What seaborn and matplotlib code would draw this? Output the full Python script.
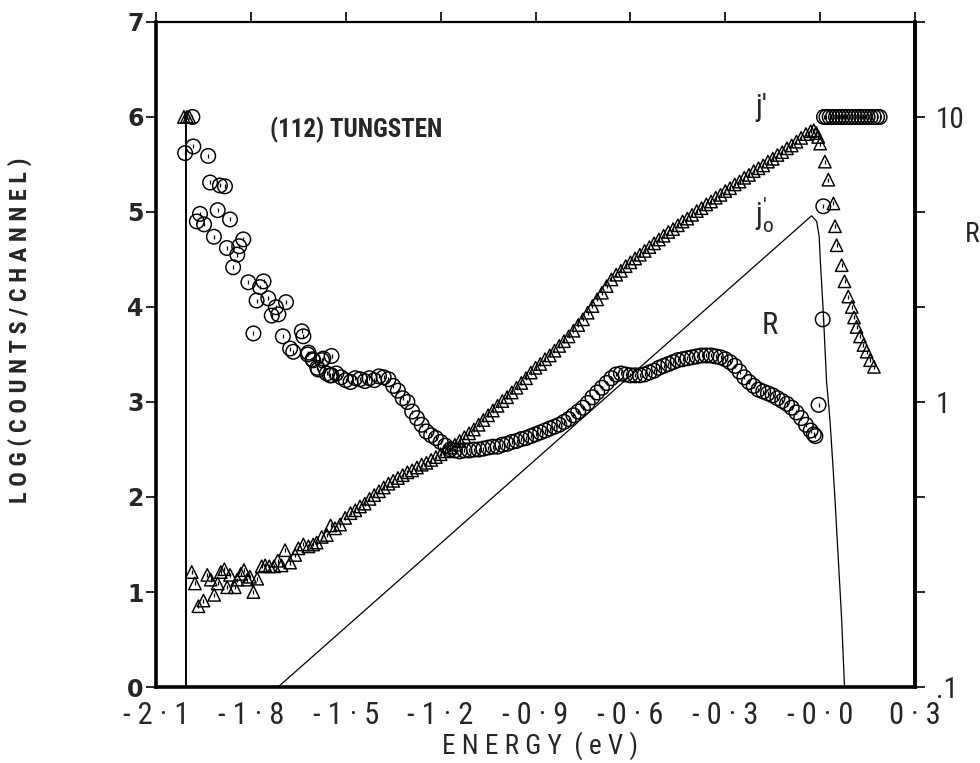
import numpy as np
import pandas as pd
import matplotlib
matplotlib.use("Agg")
import matplotlib.pyplot as plt
import seaborn as sns
from matplotlib import font_manager
from matplotlib.ticker import NullLocator

# ---------------- data ----------------
# j' (triangles, left axis: log counts/channel)
jp_head_E = [-2.012, -2.003, -1.995,
             -1.987, -1.977, -1.966, -1.950, -1.938, -1.927, -1.916, -1.905, -1.895, -1.884,
             -1.875, -1.866, -1.851, -1.843, -1.832, -1.822, -1.811, -1.803, -1.792, -1.780,
             -1.766, -1.755, -1.742, -1.727, -1.715, -1.703, -1.692, -1.676, -1.660, -1.650,
             -1.634, -1.618, -1.603, -1.592, -1.576, -1.560, -1.548, -1.534, -1.518, -1.502]
jp_head_v = [6.00, 6.00, 6.00,
             1.21, 1.09, 0.85, 0.91, 1.18, 1.13, 0.97, 1.09, 1.21, 1.24,
             1.05, 1.18, 1.05, 1.13, 1.19, 1.23, 1.13, 1.16, 1.00, 1.14,
             1.27, 1.28, 1.27, 1.27, 1.33, 1.28, 1.44, 1.31, 1.39, 1.46,
             1.50, 1.48, 1.50, 1.52, 1.58, 1.60, 1.70, 1.67, 1.71, 1.78]

jp_E = [-1.485, -1.470, -1.455, -1.440, -1.425, -1.410, -1.395, -1.380, -1.365, -1.350,
        -1.335, -1.320, -1.305, -1.290, -1.275, -1.260, -1.245, -1.230, -1.215, -1.200,
        -1.185, -1.170, -1.155, -1.140, -1.125, -1.110, -1.095, -1.080, -1.065, -1.050,
        -1.035, -1.020, -1.005, -0.990, -0.975, -0.960, -0.945, -0.930, -0.915, -0.900,
        -0.885, -0.870, -0.855, -0.840, -0.825, -0.810, -0.795, -0.780, -0.765, -0.750,
        -0.735, -0.720, -0.705, -0.690, -0.675, -0.660, -0.645, -0.630, -0.615, -0.600,
        -0.585, -0.570, -0.555, -0.540, -0.525, -0.510, -0.495, -0.480, -0.465, -0.450,
        -0.435, -0.420, -0.405, -0.390, -0.375, -0.360, -0.345, -0.330, -0.315, -0.300,
        -0.285, -0.270, -0.255, -0.240, -0.225, -0.210, -0.195, -0.180, -0.165, -0.150,
        -0.135, -0.120, -0.105, -0.090, -0.075, -0.060, -0.045, -0.030, -0.020, -0.012,
        -0.006, 0.000]
jp_v = [1.83, 1.86, 1.90, 1.93, 1.98, 2.02, 2.06, 2.10, 2.14, 2.17,
        2.20, 2.23, 2.26, 2.28, 2.31, 2.34, 2.36, 2.39, 2.42, 2.45,
        2.48, 2.52, 2.55, 2.59, 2.63, 2.67, 2.71, 2.76, 2.81, 2.86,
        2.91, 2.96, 3.01, 3.05, 3.10, 3.15, 3.20, 3.25, 3.31, 3.36,
        3.40, 3.45, 3.49, 3.54, 3.59, 3.64, 3.69, 3.75, 3.81, 3.87,
        3.94, 4.01, 4.08, 4.15, 4.22, 4.29, 4.34, 4.38, 4.43, 4.47,
        4.51, 4.55, 4.59, 4.63, 4.67, 4.71, 4.75, 4.79, 4.82, 4.86,
        4.90, 4.93, 4.97, 5.01, 5.04, 5.08, 5.11, 5.15, 5.18, 5.22,
        5.25, 5.29, 5.32, 5.36, 5.39, 5.43, 5.46, 5.49, 5.53, 5.56,
        5.60, 5.63, 5.67, 5.70, 5.74, 5.78, 5.82, 5.85, 5.86, 5.83,
        5.79, 5.72]

jp_tail_E = [0.015, 0.026, 0.042, 0.047, 0.052, 0.068, 0.077, 0.089, 0.100, 0.107,
             0.115, 0.126, 0.137, 0.147, 0.158, 0.170]
jp_tail_v = [5.53, 5.34, 5.09, 4.85, 4.65, 4.44, 4.27, 4.11, 4.00, 3.89,
             3.79, 3.69, 3.60, 3.53, 3.44, 3.37]

# R (circles, right log axis)
R_head_E = [-1.985, -2.008, -1.982, -1.935, -1.929, -1.898, -1.882, -1.961, -1.971, -1.948,
            -1.905, -1.866, -1.917, -1.876, -1.843, -1.837, -1.824, -1.856, -1.808, -1.760,
            -1.771, -1.782, -1.745, -1.721, -1.689, -1.734, -1.713, -1.792, -1.699, -1.639,
            -1.634, -1.676, -1.666, -1.618, -1.603, -1.571, -1.545, -1.587, -1.550]
R_head = [10.0, 7.47, 7.88, 7.30, 5.89, 5.75, 5.71, 4.57, 4.30, 4.20,
          4.71, 4.37, 3.80, 3.47, 3.29, 3.52, 3.72, 2.97, 2.63, 2.65,
          2.53, 2.27, 2.31, 2.15, 2.24, 2.01, 2.03, 1.74, 1.70, 1.77,
          1.70, 1.54, 1.50, 1.49, 1.40, 1.42, 1.45, 1.30, 1.24]

R_E = [-1.620, -1.605, -1.590, -1.575, -1.560, -1.545, -1.530, -1.515, -1.500, -1.485,
       -1.470, -1.455, -1.440, -1.425, -1.410, -1.395, -1.380, -1.365, -1.350, -1.335,
       -1.320, -1.305, -1.290, -1.275, -1.260, -1.245, -1.230, -1.215, -1.200, -1.185,
       -1.170, -1.155, -1.140, -1.125, -1.110, -1.095, -1.080, -1.065, -1.050, -1.035,
       -1.020, -1.005, -0.990, -0.975, -0.960, -0.945, -0.930, -0.915, -0.900, -0.885,
       -0.870, -0.855, -0.840, -0.825, -0.810, -0.795, -0.780, -0.765, -0.750, -0.735,
       -0.720, -0.705, -0.690, -0.675, -0.660, -0.645, -0.630, -0.615, -0.600, -0.585,
       -0.570, -0.555, -0.540, -0.525, -0.510, -0.495, -0.480, -0.465, -0.450, -0.435,
       -0.420, -0.405, -0.390, -0.375, -0.360, -0.345, -0.330, -0.315, -0.300, -0.285,
       -0.270, -0.255, -0.240, -0.225, -0.210, -0.195, -0.180, -0.165, -0.150, -0.135,
       -0.120, -0.105, -0.090, -0.075, -0.060, -0.045, -0.030, -0.020, -0.015]
R_vals = [1.468, 1.413, 1.318, 1.402, 1.259, 1.240, 1.259, 1.221, 1.193, 1.175,
          1.212, 1.202, 1.184, 1.212, 1.193, 1.230, 1.221, 1.202, 1.139, 1.096,
          1.031, 1.000, 0.926, 0.878, 0.832, 0.788, 0.764, 0.747, 0.724, 0.703,
          0.681, 0.676, 0.671, 0.676, 0.676, 0.681, 0.681, 0.686, 0.692, 0.697,
          0.697, 0.708, 0.713, 0.724, 0.730, 0.741, 0.747, 0.759, 0.770, 0.782,
          0.794, 0.807, 0.819, 0.832, 0.851, 0.871, 0.898, 0.926, 0.955, 0.992,
          1.039, 1.080, 1.122, 1.166, 1.212, 1.249, 1.259, 1.249, 1.240, 1.240,
          1.240, 1.249, 1.269, 1.288, 1.318, 1.339, 1.359, 1.380, 1.402, 1.413,
          1.424, 1.435, 1.445, 1.456, 1.456, 1.456, 1.445, 1.435, 1.413, 1.380,
          1.339, 1.279, 1.221, 1.175, 1.139, 1.105, 1.088, 1.072, 1.055, 1.031,
          1.008, 0.985, 0.955, 0.919, 0.878, 0.832, 0.794, 0.770, 0.759]

R_tail_E = [-0.005, 0.008, 0.010,
            0.012, 0.020, 0.030, 0.040, 0.050, 0.060, 0.070, 0.080, 0.090, 0.100,
            0.110, 0.120, 0.130, 0.140, 0.150, 0.160, 0.170, 0.180, 0.188]
R_tail = [0.977, 1.95, 4.86,
          10, 10, 10, 10, 10, 10, 10, 10, 10, 10,
          10, 10, 10, 10, 10, 10, 10, 10, 10]

# j0' (solid line, left axis)
j0_E = [-1.714, -0.027, -0.011, -0.003, 0.001, 0.010, 0.020, 0.031, 0.040, 0.047, 0.068, 0.077]
j0_v = [0.00, 4.96, 4.90, 4.74, 4.46, 3.94, 3.23, 2.81, 2.35, 1.97, 0.71, 0.00]

# left edge of the j' scan
edge_E = [-2.005, -2.005]
edge_v = [0.0, 6.0]

x_ticks = [-2.1, -1.8, -1.5, -1.2, -0.9, -0.6, -0.3, 0.0, 0.3]
x_labels = ["- 2 · 1", "- 1 · 8", "- 1 · 5", "- 1 · 2", "- 0 · 9", "- 0 · 6", "- 0 · 3", "- 0 · 0", "0 · 3"]
y_ticks = [0, 1, 2, 3, 4, 5, 6, 7]
r_ticks = [10 ** (-1 + k / 3) for k in range(8)]
r_labels = [".1", "", "", "1", "", "", "10", ""]

# ---------------- style ----------------
sns.set_theme(style="white")
avail = {f.name for f in font_manager.fontManager.ttflist}
narrow = next((f for f in ["Liberation Sans Narrow", "DejaVu Sans Condensed", "Roboto Condensed"]
               if f in avail), "DejaVu Sans")
plt.rcParams['font.family'] = ['DejaVu Sans']

fig = plt.figure(figsize=(9.8, 7.63), dpi=100)
ax = fig.add_axes([0.1592, 0.0996, 0.7745, 0.8716])

tri_kw = dict(marker="^", s=80, facecolor="none", edgecolor="black", linewidth=1.05, legend=False)
cir_kw = dict(marker="o", s=110, facecolor="none", edgecolor="black", linewidth=1.05, legend=False)
dot_kw = dict(marker="|", s=10, color="black", linewidth=0.9, legend=False)

sns.lineplot(x=edge_E, y=edge_v, ax=ax, color="black", linewidth=1.4, estimator=None, sort=False)
sns.lineplot(x=j0_E, y=j0_v, ax=ax, color="black", linewidth=0.9, estimator=None, sort=False)

for xs, ys in [(jp_head_E, jp_head_v), (jp_E, jp_v), (jp_tail_E, jp_tail_v)]:
    sns.scatterplot(x=xs, y=ys, ax=ax, **tri_kw)
    sns.scatterplot(x=xs, y=ys, ax=ax, **dot_kw)

ax.set_xlim(-2.1, 0.3)
ax.set_ylim(0, 7)
ax.set_xticks(x_ticks)
ax.set_xticklabels(x_labels, fontsize=22, family=narrow)
ax.set_yticks(y_ticks)
ax.set_yticklabels([str(t) for t in y_ticks], fontsize=17, fontweight="bold")
ax.tick_params(axis="both", direction="out", length=7, width=1.2, color="black",
               top=True, labeltop=False, right=False, labelright=False, pad=2)
ax.tick_params(axis="x", pad=3)

for s in ["left", "bottom"]:
    ax.spines[s].set_linewidth(2.6)
ax.spines["top"].set_linewidth(1.6)
ax.spines["right"].set_linewidth(2.6)
for s in ax.spines.values():
    s.set_color("black")

ax2 = ax.twinx()
for xs, ys in [(R_head_E, R_head), (R_E, R_vals), (R_tail_E, R_tail)]:
    sns.scatterplot(x=xs, y=ys, ax=ax2, **cir_kw)
    sns.scatterplot(x=xs, y=ys, ax=ax2, **dot_kw)
ax2.set_yscale("log")
ax2.set_ylim(0.1, 10 ** (4 / 3))
ax2.set_yticks(r_ticks)
ax2.set_yticklabels(r_labels, fontsize=21, family=narrow)
ax2.yaxis.set_minor_locator(NullLocator())
ax2.tick_params(axis="y", direction="out", length=7, width=1.2, color="black", pad=8)
ax2.set_ylabel("")
for s in ["left", "top", "bottom"]:
    ax2.spines[s].set_visible(False)
ax2.spines["right"].set_linewidth(2.6)
ax2.spines["right"].set_color("black")

ax.set_xlabel("E N E R G Y  ( e V )", fontsize=19.5, family=narrow)
ax.xaxis.set_label_coords(0.506, -0.066)
ax.set_ylabel("L O G ( C O U N T S / C H A N N E L )", fontsize=17.5, family=narrow, fontweight="bold")
ax.yaxis.set_label_coords(-0.163, 0.537)

ax.text(-1.468, 5.86, "(112) TUNGSTEN", fontsize=18, family=narrow, fontweight="bold",
        ha="center", va="center")
ax.text(-0.187, 6.10, "j'", fontsize=22, family=narrow, ha="center", va="center")
ax.text(-0.174, 4.97, r"$\mathregular{j^{\prime}_{o}}$", fontsize=22, family=narrow, ha="center", va="center")
ax.text(-0.158, 3.81, "R", fontsize=22, family=narrow, ha="center", va="center")
ax.text(1.075, 0.68, "R", fontsize=20, family=narrow, ha="center", va="center", transform=ax.transAxes)

fig.savefig("out.png", dpi=100)
